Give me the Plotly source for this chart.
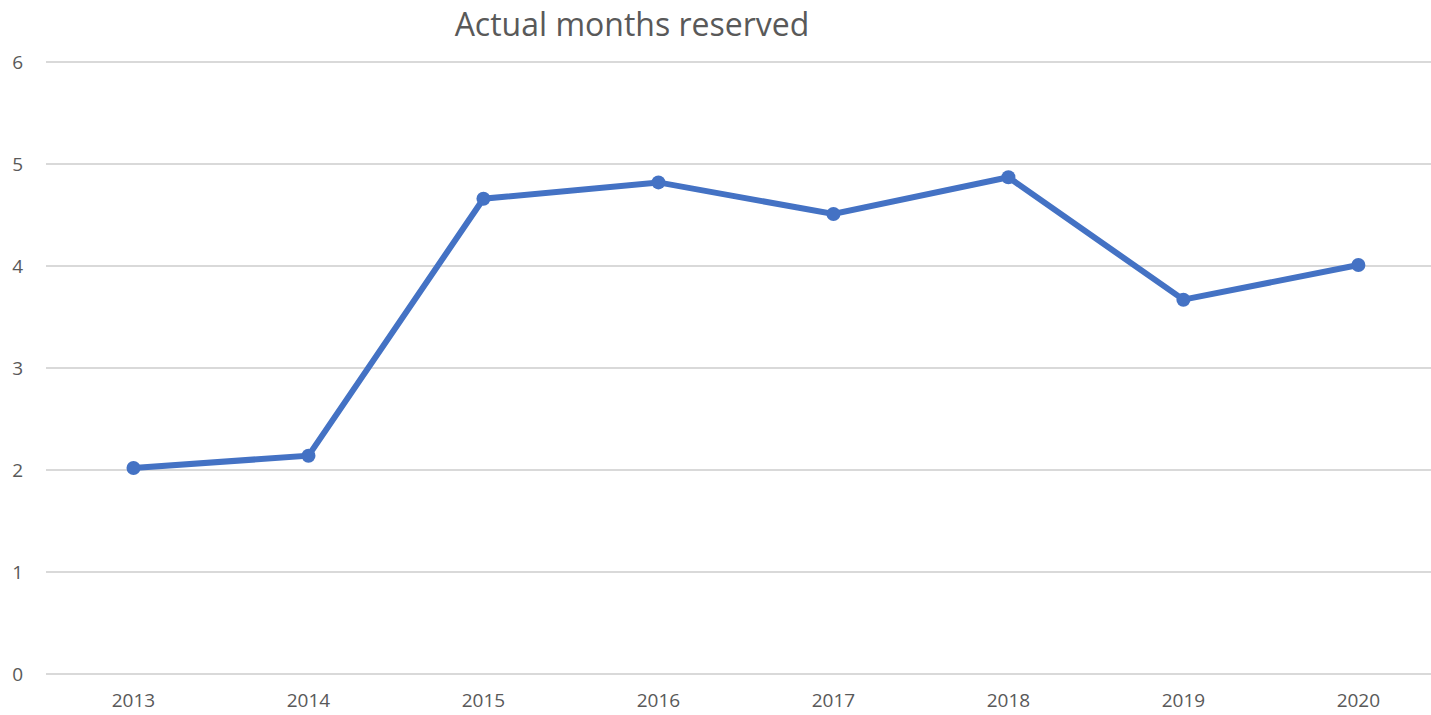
import plotly.graph_objects as go

# data
years = ["2013", "2014", "2015", "2016", "2017", "2018", "2019", "2020"]
months_reserved = [2.02, 2.14, 4.66, 4.82, 4.51, 4.87, 3.67, 4.01]
y_ticks = [0, 1, 2, 3, 4, 5, 6]

blue = "#4472C4"
grey_text = "#595959"
font_family = "Open Sans"

fig = go.Figure()
fig.add_trace(go.Scatter(
    x=years,
    y=months_reserved,
    mode="lines+markers",
    line=dict(color=blue, width=6),
    marker=dict(color=blue, size=14),
    showlegend=False,
))

fig.update_layout(
    width=1431,
    height=715,
    margin=dict(l=46, r=0, t=58, b=37),
    paper_bgcolor="white",
    plot_bgcolor="white",
    font=dict(family=font_family, color=grey_text, size=19),
    title=dict(
        text="Actual months reserved",
        x=632 / 1431,
        xanchor="center",
        xref="container",
        y=1 - 25 / 715,
        yanchor="middle",
        yref="container",
        font=dict(size=32, color=grey_text, family=font_family),
    ),
)

fig.update_xaxes(
    type="category",
    range=[-0.5, 7.415],
    showgrid=False,
    showline=False,
    zeroline=False,
    ticks="",
    ticklabelstandoff=9,
    automargin=False,
)
fig.update_yaxes(
    range=[-0.04, 6.04],
    tickvals=y_ticks,
    showgrid=True,
    gridcolor="#D9D9D9",
    gridwidth=1.5,
    zeroline=False,
    showline=False,
    ticks="",
    ticklabelstandoff=22,
    automargin=False,
)

# drop the browser's default body margin so the chart sits at the page corner
fig.write_html("out.html",
               config={"displayModeBar": False},
               post_script="document.body.style.margin='0';")
